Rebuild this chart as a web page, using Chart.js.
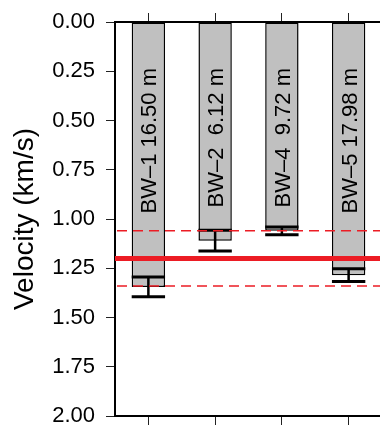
<!DOCTYPE html>
<html><head><meta charset="utf-8">
<script src="https://cdn.jsdelivr.net/npm/chart.js@4.4.1/dist/chart.umd.min.js"></script>
<style>html,body{margin:0;padding:0;overflow:hidden;background:#fff;width:380px;height:425px}canvas{display:block}</style>
</head><body>
<canvas id="c" width="382" height="425"></canvas>
<script>
const categories = ['BW–1', 'BW–2', 'BW–4', 'BW–5'];
const depths = ['16.50', '6.12', '9.72', '17.98'];
const velocities = [1.345, 1.11, 1.06, 1.285];
const errors = [0.05, 0.053, 0.02, 0.032];
const meanVelocity = 1.20;
const meanBounds = [1.06, 1.34];
const yTicks = [0, 0.25, 0.5, 0.75, 1.0, 1.25, 1.5, 1.75, 2.0];

const FONT = '"Liberation Sans", Arial, Helvetica, sans-serif';
Chart.defaults.font.family = FONT;
Chart.defaults.color = '#000';

const barLabels = categories.map((c, i) => c + ' ' + depths[i].padStart(5, ' ') + ' m');

const overlay = {
  id: 'overlay',
  afterDatasetsDraw(chart) {
    const {ctx, chartArea: a, scales: {y}} = chart;
    const meta = chart.getDatasetMeta(0);
    ctx.save();
    // labels inside bars
    ctx.font = '22px ' + FONT;
    ctx.fillStyle = '#000';
    ctx.textAlign = 'right';
    ctx.textBaseline = 'alphabetic';
    meta.data.forEach((bar, i) => {
      ctx.save();
      ctx.translate(bar.x + 7.9, a.top + 46);
      ctx.rotate(-Math.PI / 2);
      ctx.fillText(barLabels[i], 0, 0);
      ctx.restore();
    });
    // error bars
    ctx.strokeStyle = '#000';
    ctx.lineCap = 'butt';
    meta.data.forEach((bar, i) => {
      const w = bar.width;
      const t = y.getPixelForValue(velocities[i] - errors[i]);
      const b = y.getPixelForValue(velocities[i] + errors[i]);
      ctx.lineWidth = 2.5;
      ctx.beginPath();
      ctx.moveTo(bar.x, t); ctx.lineTo(bar.x, b);
      ctx.stroke();
      ctx.lineWidth = 3;
      ctx.beginPath();
      ctx.moveTo(bar.x - w / 2, t); ctx.lineTo(bar.x + w / 2, t);
      ctx.moveTo(bar.x - w / 2, b); ctx.lineTo(bar.x + w / 2, b);
      ctx.stroke();
    });
    // mean and bounds
    ctx.strokeStyle = '#ec1c24';
    ctx.lineWidth = 1.5;
    ctx.setLineDash([10, 6]);
    meanBounds.forEach(v => {
      const p = y.getPixelForValue(v);
      ctx.beginPath(); ctx.moveTo(a.left + 2, p); ctx.lineTo(a.right, p); ctx.stroke();
    });
    ctx.setLineDash([]);
    ctx.lineWidth = 5;
    const pm = y.getPixelForValue(meanVelocity);
    ctx.beginPath(); ctx.moveTo(a.left, pm); ctx.lineTo(a.right, pm); ctx.stroke();
    ctx.restore();
  }
};

const gridCat = {offset: false, drawOnChartArea: false, drawTicks: true, tickLength: 9, color: '#222', lineWidth: 1};

new Chart(document.getElementById('c'), {
  type: 'bar',
  data: {
    labels: categories,
    datasets: [{
      data: velocities,
      backgroundColor: '#c0c0c0',
      borderColor: '#000',
      borderWidth: 1.5,
      borderSkipped: false,
      categoryPercentage: 1,
      barPercentage: 0.5
    }]
  },
  options: {
    responsive: false,
    animation: false,
    layout: {padding: 0},
    plugins: {legend: {display: false}, tooltip: {enabled: false}},
    scales: {
      x: {
        type: 'category', position: 'bottom', offset: true,
        grid: gridCat,
        ticks: {display: false},
        border: {color: '#000', width: 2},
        afterFit(s) { s.height = 9; s.paddingLeft = 0; s.paddingRight = 0; }
      },
      x2: {
        type: 'category', position: 'top', offset: true, labels: categories,
        grid: gridCat,
        ticks: {display: false},
        border: {color: '#000', width: 2},
        afterFit(s) { s.height = 22; s.paddingLeft = 0; s.paddingRight = 0; }
      },
      y: {
        min: 0, max: 2, reverse: true,
        afterBuildTicks(s) { s.ticks = yTicks.map(v => ({value: v})); },
        ticks: {padding: 11, color: '#000', font: {size: 22}, callback: v => Number(v).toFixed(2)},
        grid: {drawOnChartArea: false, drawTicks: true, tickLength: 9, color: '#222', lineWidth: 1},
        border: {color: '#000', width: 2},
        title: {display: true, text: 'Velocity (km/s)', color: '#000', font: {size: 28}, padding: {top: 8, bottom: 0}},
        afterFit(s) { s.width = 115; s.paddingTop = 0; s.paddingBottom = 0; }
      }
    }
  },
  plugins: [overlay]
});
</script>
</body></html>
